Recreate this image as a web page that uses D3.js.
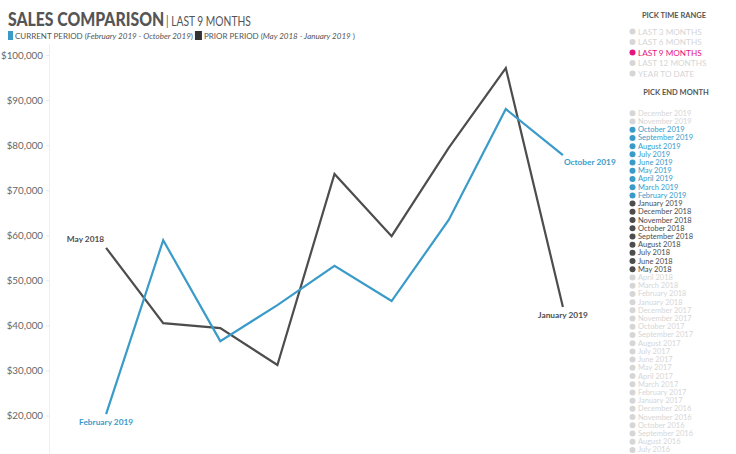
<!DOCTYPE html>
<html><head><meta charset="utf-8">
<script src="https://cdn.jsdelivr.net/npm/d3@7"></script>
<style>
body{margin:0;background:#fff;}
svg{display:block;font-family:Lato,"Open Sans",sans-serif;}
</style></head>
<body><svg id="c" width="736" height="454"></svg>
<script>
const steps = [1,2,3,4,5,6,7,8,9];
const currentMonths = ["February 2019","March 2019","April 2019","May 2019","June 2019","July 2019","August 2019","September 2019","October 2019"];
const currentValues = [20300,58900,36500,44500,53200,45400,63400,88000,77800];
const priorMonths = ["May 2018","June 2018","July 2018","August 2018","September 2018","October 2018","November 2018","December 2018","January 2019"];
const priorValues = [57200,40500,39400,31200,73600,59800,79400,97100,44100];
const yTicks = [20000,30000,40000,50000,60000,70000,80000,90000,100000];
const timeRanges = ["LAST 3 MONTHS","LAST 6 MONTHS","LAST 9 MONTHS","LAST 12 MONTHS","YEAR TO DATE"];
const selectedRange = "LAST 9 MONTHS";
const endMonths = ["December 2019","November 2019","October 2019","September 2019","August 2019","July 2019","June 2019","May 2019","April 2019","March 2019","February 2019","January 2019","December 2018","November 2018","October 2018","September 2018","August 2018","July 2018","June 2018","May 2018","April 2018","March 2018","February 2018","January 2018","December 2017","November 2017","October 2017","September 2017","August 2017","July 2017","June 2017","May 2017","April 2017","March 2017","February 2017","January 2017","December 2016","November 2016","October 2016","September 2016","August 2016","July 2016"];

const BLUE="#3a9bc9", DARK="#4d4d4d", LIGHT="#d6d6d6", PINK="#e5137f";
const svg = d3.select("#c");

const x = d3.scalePoint().domain(steps).range([49,620]).padding(1);
const y = d3.scaleLinear().domain([20000,100000]).range([415.5,55]);

// axis
const yAxis = d3.axisLeft(y).tickValues(yTicks).tickSize(3).tickPadding(3)
  .tickFormat(d=>"$"+d3.format(",")(d));
const ga = svg.append("g").attr("transform","translate(49,0)").call(yAxis);
ga.select(".domain").remove();
ga.selectAll(".tick line").attr("stroke","#e8e8e8");
ga.selectAll(".tick text").attr("fill","#666").attr("font-size",9.8).attr("font-family","Lato,sans-serif");
svg.append("line").attr("x1",49.5).attr("x2",49.5).attr("y1",44).attr("y2",454).attr("stroke","#efefef");

const line = d3.line().x((d,i)=>x(steps[i])).y(d=>y(d));
svg.append("path").datum(priorValues).attr("d",line).attr("fill","none").attr("stroke",DARK).attr("stroke-width",2.2);
svg.append("path").datum(currentValues).attr("d",line).attr("fill","none").attr("stroke",BLUE).attr("stroke-width",2.2);

// end labels
const lbl = (t,xx,yy,anchor,col,w)=>svg.append("text").attr("x",xx).attr("y",yy).attr("text-anchor",anchor)
  .attr("fill",col).attr("font-size",8.3).attr("font-weight",w).text(t);
lbl(priorMonths[0], x(steps[0])-2, y(priorValues[0])-6, "end", DARK, "bold");
lbl(currentMonths[0], x(steps[0]), y(currentValues[0])+11, "middle", BLUE, "bold");
lbl(currentMonths[8], x(steps[8])+1, y(currentValues[8])+10, "start", BLUE, "bold");
lbl(priorMonths[8], x(steps[8]), y(priorValues[8])+11, "middle", DARK, "bold");

// title
svg.append("text").attr("transform","translate(8,26) scale(0.81,1)").attr("fill","#555")
  .attr("font-size",19.5).attr("font-weight",900).text("SALES COMPARISON");
svg.append("text").attr("transform","translate(166,26) scale(0.82,1)").attr("fill","#555")
  .attr("font-size",12.5).text("| LAST 9 MONTHS");

// legend line
svg.append("rect").attr("x",8).attr("y",31).attr("width",5).attr("height",9).attr("fill",BLUE);
const l = svg.append("text").attr("x",15).attr("y",39).attr("font-size",8).attr("fill","#555");
l.append("tspan").text("CURRENT PERIOD (");
l.append("tspan").attr("font-style","italic").text("February 2019 - October 2019");
l.append("tspan").text(")");
const lb = l.node().getBBox();
svg.append("rect").attr("x",lb.x+lb.width+2).attr("y",31).attr("width",7).attr("height",9).attr("fill","#333");
const l2 = svg.append("text").attr("x",lb.x+lb.width+11).attr("y",39).attr("font-size",8).attr("fill","#555");
l2.append("tspan").text("PRIOR PERIOD (");
l2.append("tspan").attr("font-style","italic").text("May 2018 - January 2019");
l2.append("tspan").text(" )");

// right panel
svg.append("text").attr("x",674).attr("y",18).attr("text-anchor","middle").attr("font-size",7.5)
  .attr("font-weight","bold").attr("fill","#555").text("PICK TIME RANGE");
timeRanges.forEach((r,i)=>{
  const col = r===selectedRange?PINK:LIGHT;
  const yy = 31.5+i*10.5;
  svg.append("circle").attr("cx",632.5).attr("cy",yy).attr("r",3).attr("fill",col);
  svg.append("text").attr("x",638).attr("y",yy+3).attr("font-size",8.2).attr("fill",col).text(r);
});
svg.append("text").attr("x",676).attr("y",95).attr("text-anchor","middle").attr("font-size",7.5)
  .attr("font-weight","bold").attr("fill","#555").text("PICK END MONTH");
const curSet = new Set(currentMonths), priSet = new Set(priorMonths);
endMonths.forEach((m,i)=>{
  const col = curSet.has(m)?BLUE:(priSet.has(m)?DARK:LIGHT);
  const yy = 113.3+i*8.21;
  svg.append("circle").attr("cx",632.5).attr("cy",yy).attr("r",3).attr("fill",col);
  svg.append("text").attr("transform",`translate(638,${yy+2.5}) scale(1.12,1)`)
    .attr("font-size",6.7).attr("fill",col).text(m);
});
</script></body></html>
